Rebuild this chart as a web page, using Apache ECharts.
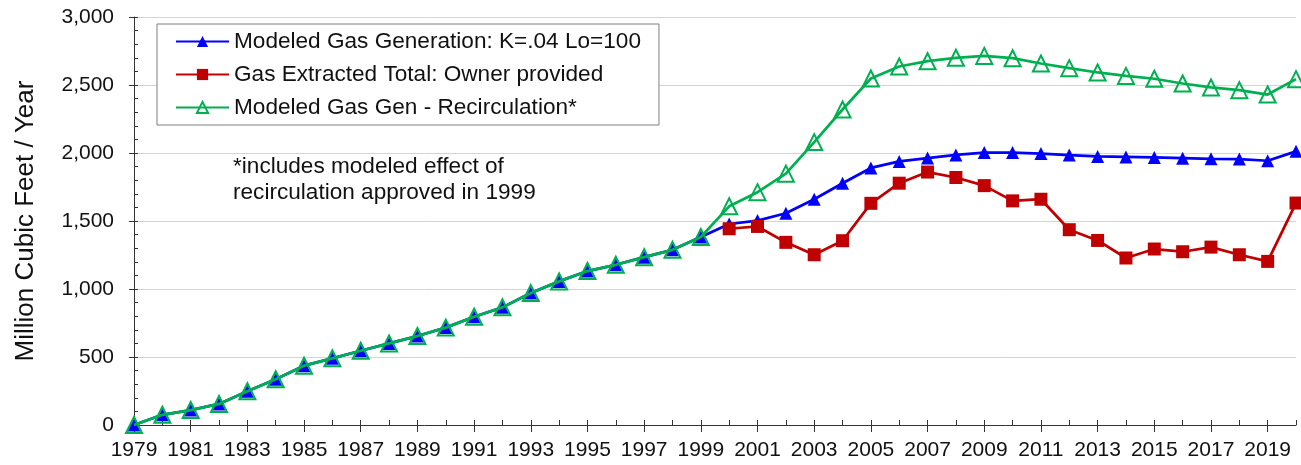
<!DOCTYPE html>
<html>
<head>
<meta charset="utf-8">
<script src="https://cdn.jsdelivr.net/npm/echarts@6/dist/echarts.min.js"></script>
<style>html,body{margin:0;padding:0;background:#fff}#c{width:1301px;height:465px}</style>
</head>
<body>
<div id="c"></div>
<script>
var years = [];
for (var y = 1979; y <= 2020; y++) years.push(String(y));

var modeledGen = [0, 75, 110, 155, 248, 336, 436, 490, 546, 600, 654, 716, 796, 865, 970, 1056, 1132, 1178, 1234, 1288, 1382,
  1478, 1503, 1557, 1660, 1778, 1890, 1938, 1963, 1986, 2003, 2003, 1996, 1985, 1975, 1971, 1967, 1962, 1957, 1955, 1943, 2012];

var extracted = [null, null, null, null, null, null, null, null, null, null, null, null, null, null, null, null, null, null, null, null, null,
  1443, 1460, 1343, 1252, 1355, 1630, 1778, 1860, 1820, 1760, 1648, 1660, 1436, 1357, 1228, 1294, 1274, 1308, 1252, 1203, 1632];

var recirc = [0, 75, 110, 155, 248, 336, 436, 490, 546, 600, 654, 716, 796, 865, 970, 1056, 1132, 1178, 1234, 1288, 1382,
  1608, 1712, 1848, 2080, 2320, 2548, 2636, 2675, 2700, 2714, 2697, 2658, 2624, 2592, 2567, 2546, 2511, 2482, 2462, 2430, 2543];

var yTicks = [0, 500, 1000, 1500, 2000, 2500, 3000];
var seriesNames = ['Modeled Gas Generation: K=.04 Lo=100', 'Gas Extracted Total: Owner provided', 'Modeled Gas Gen - Recirculation*'];
var noteLines = ['*includes modeled effect of', 'recirculation approved in 1999'];

var FONT = '"Liberation Sans", Arial, sans-serif';
var chart = echarts.init(document.getElementById('c'), null, {renderer: 'canvas'});

chart.setOption({
  animation: false,
  backgroundColor: '#fff',
  grid: {left: 134, right: 5, top: 17, bottom: 40, containLabel: false, outerBoundsMode: 'none'},
  legend: {
    orient: 'vertical', left: 157, top: 24,
    padding: [6, 18, 6, 18],
    backgroundColor: '#fff', borderColor: '#7f7f7f', borderWidth: 1,
    itemWidth: 53, itemHeight: 14, itemGap: 10,
    textStyle: {fontFamily: FONT, fontSize: 22.6, color: '#111', lineHeight: 22, padding: [0, 0, 0, 0]},
    data: seriesNames
  },
  graphic: [{
    type: 'group', z: 50,
    children: [
      {type: 'rect', shape: {x: 213, y: 143, width: 343, height: 84}, style: {fill: '#fff'}},
      {type: 'text', x: 233, y: 154, style: {text: noteLines.join('\n'), font: '22.6px ' + FONT, fill: '#111', lineHeight: 26}}
    ]
  }],
  xAxis: [{
    type: 'category', data: years, boundaryGap: false, position: 'bottom',
    axisLine: {lineStyle: {color: '#333', width: 1}},
    axisTick: {show: true, interval: 1, length: 7, lineStyle: {color: '#333'}},
    axisLabel: {interval: 1, margin: 15, fontFamily: FONT, fontSize: 21, color: '#111'},
    splitLine: {show: false}
  }, {
    type: 'category', data: years, boundaryGap: false, position: 'bottom',
    axisLine: {show: false},
    axisTick: {show: true, inside: true, interval: 0, length: 5, lineStyle: {color: '#333'}},
    axisLabel: {show: false},
    splitLine: {show: false}
  }],
  yAxis: [{
    type: 'value', min: 0, max: 3000, interval: 500,
    name: 'Million Cubic Feet / Year', nameLocation: 'middle', nameGap: 95,
    nameTextStyle: {fontFamily: FONT, fontSize: 26, color: '#111'},
    axisLine: {show: true, lineStyle: {color: '#333', width: 1}},
    axisTick: {show: true, length: 5, lineStyle: {color: '#333'}},
    axisLabel: {margin: 20, fontFamily: FONT, fontSize: 21, color: '#111',
      formatter: function (v) { return yTicks.indexOf(v) >= 0 ? v.toLocaleString('en-US') : ''; }},
    splitLine: {show: true, lineStyle: {color: '#d4d4d4', width: 1}}
  }, {
    type: 'value', min: 0, max: 3000, interval: 100, position: 'left',
    axisLine: {show: false},
    axisTick: {show: true, inside: true, length: 4, lineStyle: {color: '#333'}},
    axisLabel: {show: false},
    splitLine: {show: false}
  }],
  series: [{
    name: seriesNames[0], type: 'line', data: modeledGen, xAxisIndex: 0, yAxisIndex: 0,
    symbol: 'triangle', symbolSize: 13, z: 3,
    lineStyle: {color: '#0000FF', width: 2.75},
    itemStyle: {color: '#0000FF'}
  }, {
    name: seriesNames[1], type: 'line', data: extracted, xAxisIndex: 0, yAxisIndex: 0,
    symbol: 'rect', symbolSize: 13, z: 4,
    lineStyle: {color: '#C00000', width: 2.75},
    itemStyle: {color: '#C00000'}
  }, {
    name: seriesNames[2], type: 'line', data: recirc, xAxisIndex: 0, yAxisIndex: 0,
    symbol: 'triangle', symbolSize: 16, z: 5,
    lineStyle: {color: '#00B050', width: 2.75},
    itemStyle: {color: 'rgba(255,255,255,0)', borderColor: '#00B050', borderWidth: 2}
  }]
});
</script>
</body>
</html>
